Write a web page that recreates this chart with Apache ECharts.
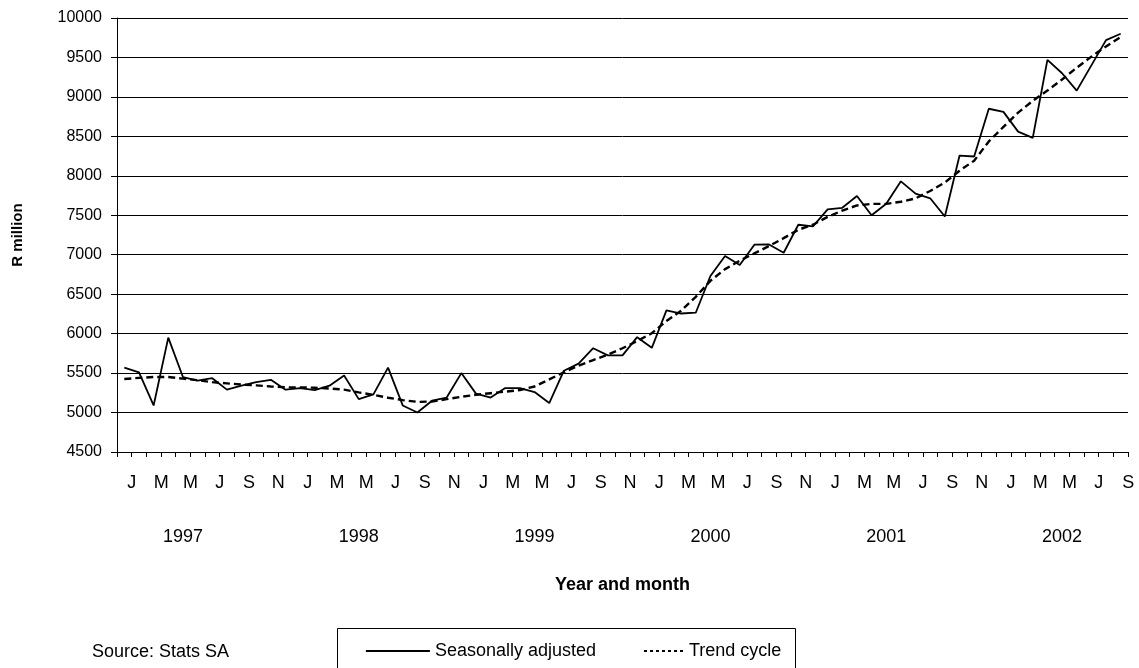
<!DOCTYPE html>
<html>
<head>
<meta charset="utf-8">
<script src="https://cdn.jsdelivr.net/npm/echarts@6/dist/echarts.min.js"></script>
<style>
html, body { margin: 0; padding: 0; background: #fff; }
#chart { width: 1139px; height: 668px; }
</style>
</head>
<body>
<div id="chart"></div>
<script>
var monthInitials = ['J', 'F', 'M', 'A', 'M', 'J', 'J', 'A', 'S', 'O', 'N', 'D'];
var years = ['1997', '1998', '1999', '2000', '2001', '2002'];
var monthsInLastYear = 9;

var yMin = 4500, yMax = 10000, yStep = 500;

// R million, Jan 1997 .. Sep 2002
var seasAdj = [
    5570, 5510, 5090, 5950, 5450, 5405, 5435, 5290, 5340, 5385, 5415, 5290,
    5310, 5285, 5340, 5470, 5170, 5230, 5570, 5090, 5000, 5150, 5190, 5500,
    5240, 5190, 5310, 5310, 5260, 5120, 5530, 5620, 5815, 5725, 5725, 5955,
    5820, 6295, 6255, 6265, 6730, 6985, 6870, 7127, 7130, 7025, 7380, 7360,
    7575, 7595, 7745, 7500, 7645, 7930, 7775, 7715, 7485, 8255, 8245, 8850,
    8810, 8560, 8480, 9470, 9300, 9080, 9400, 9720, 9800
];
var trendCycle = [
    5425, 5440, 5450, 5450, 5430, 5410, 5385, 5370, 5355, 5345, 5330, 5320,
    5318, 5315, 5305, 5290, 5255, 5225, 5188, 5158, 5135, 5140, 5170, 5200,
    5225, 5245, 5265, 5285, 5330, 5420, 5510, 5595, 5665, 5735, 5815, 5905,
    6005, 6160, 6290, 6466, 6669, 6818, 6924, 7017, 7110, 7210, 7316, 7380,
    7479, 7560, 7624, 7645, 7645, 7671, 7714, 7808, 7915, 8064, 8192, 8436,
    8620, 8800, 8950, 9080, 9220, 9370, 9510, 9640, 9760
];

// month letters on the first row, year under May of each year
var monthCats = [], yearCats = [];
for (var y = 0; y < years.length; y++) {
    var n = (y == years.length - 1) ? monthsInLastYear : 12;
    for (var m = 0; m < n; m++) {
        monthCats.push(monthInitials[m]);
        yearCats.push(m == 4 ? years[y] : '');
    }
}

var font = "'Liberation Sans', Arial, sans-serif";
var legendText = { fontFamily: font, fontSize: 18, color: '#000' };

var myChart = echarts.init(document.getElementById('chart'));
var option = {
    animation: false,
    backgroundColor: '#fff',
    textStyle: { fontFamily: font, color: '#000' },
    grid: { left: 117, right: 11, top: 18, bottom: 216 },
    legend: [
        {
            data: ['Seasonally adjusted'],
            left: 360, top: 637,
            itemWidth: 64, itemHeight: 14,
            itemStyle: { opacity: 0 },
            lineStyle: { width: 1.8 },
            textStyle: legendText
        },
        {
            data: ['Trend cycle'],
            left: 638, top: 637,
            itemWidth: 40, itemHeight: 14,
            itemStyle: { opacity: 0 },
            lineStyle: { width: 2, type: [3, 3] },
            textStyle: legendText
        }
    ],
    graphic: [
        {
            type: 'rect',
            shape: { x: 337.5, y: 628.5, width: 458, height: 60 },
            style: { fill: 'none', stroke: '#000', lineWidth: 1 },
            silent: true
        },
        {
            type: 'text',
            x: 92, y: 652,
            style: { text: 'Source: Stats SA', fontFamily: font, fontSize: 18, fill: '#000', textVerticalAlign: 'middle' }
        }
    ],
    xAxis: [
        {
            type: 'category',
            data: monthCats,
            boundaryGap: true,
            name: 'Year and month',
            nameLocation: 'middle',
            nameGap: 124,
            nameTextStyle: { fontFamily: font, fontWeight: 'bold', fontSize: 18, color: '#000' },
            axisLine: { lineStyle: { color: '#000', width: 1 } },
            axisTick: { show: true, interval: 0, length: 5, lineStyle: { color: '#000' } },
            axisLabel: {
                interval: 1, margin: 22, fontSize: 18, color: '#000',
                fontFamily: font, padding: [0, 0, 0, 15]
            },
            splitLine: { show: false }
        },
        {
            type: 'category',
            data: yearCats,
            position: 'bottom',
            gridIndex: 0,
            boundaryGap: true,
            axisLine: { show: false },
            axisTick: { show: false },
            axisLabel: { interval: 0, margin: 76, fontSize: 18, color: '#000', fontFamily: font },
            splitLine: { show: false }
        }
    ],
    yAxis: {
        type: 'value',
        min: yMin, max: yMax, interval: yStep,
        name: 'R million',
        nameLocation: 'middle',
        nameGap: 92,
        nameTextStyle: { fontFamily: font, fontWeight: 'bold', fontSize: 15, color: '#000' },
        axisLine: { show: true, lineStyle: { color: '#000', width: 1 } },
        axisTick: { show: true, length: 6, lineStyle: { color: '#000' } },
        axisLabel: {
            fontSize: 16, color: '#000', margin: 15, fontFamily: font,
            formatter: function (v) { return String(v); }
        },
        splitLine: { show: true, lineStyle: { color: '#000', width: 1 } }
    },
    series: [
        {
            name: 'Seasonally adjusted',
            type: 'line',
            data: seasAdj,
            symbol: 'none',
            lineStyle: { color: '#000', width: 1.8, type: 'solid' },
            itemStyle: { color: '#000' },
            z: 3
        },
        {
            name: 'Trend cycle',
            type: 'line',
            data: trendCycle,
            symbol: 'none',
            lineStyle: { color: '#000', width: 2.4, type: [7, 4] },
            itemStyle: { color: '#000' },
            z: 2
        }
    ]
};
myChart.setOption(option);
</script>
</body>
</html>
